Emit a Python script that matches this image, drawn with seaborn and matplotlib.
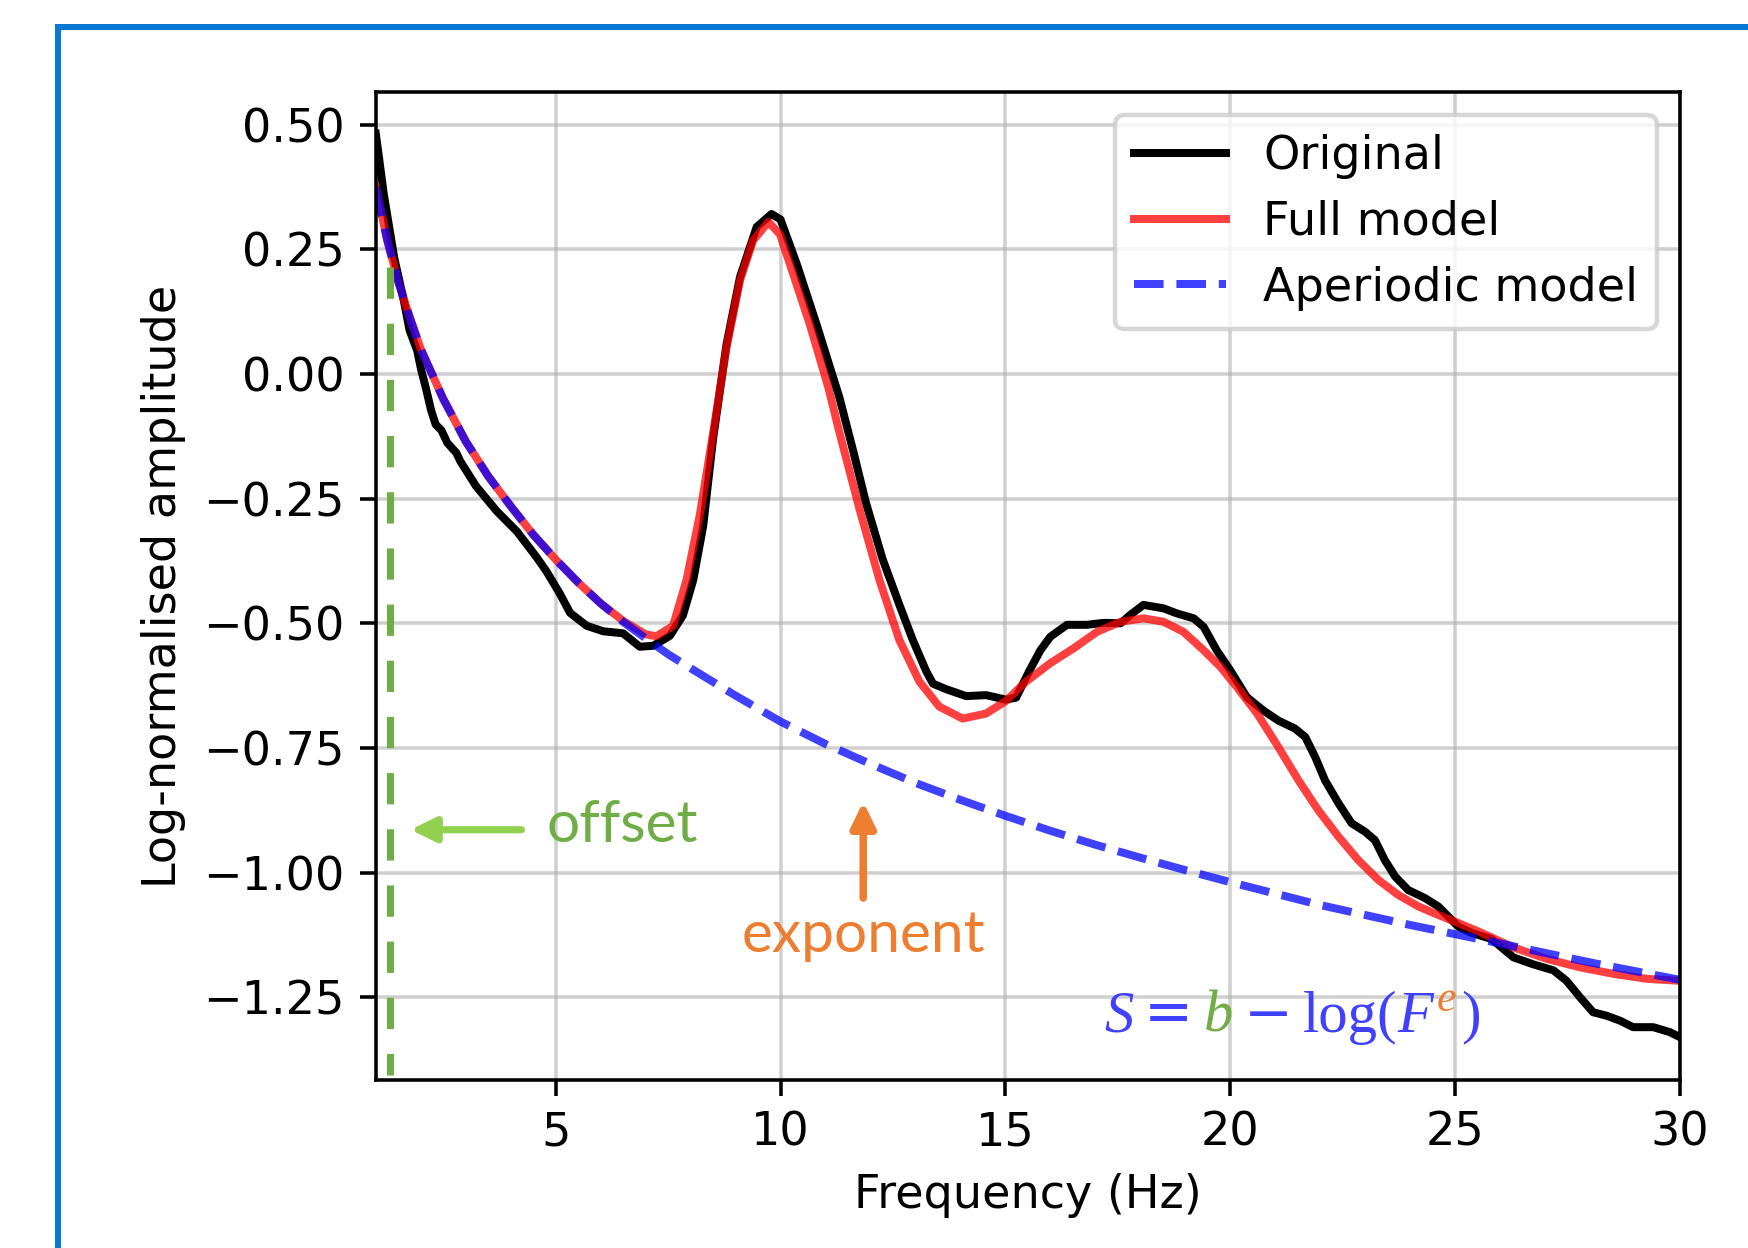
"""
Aperiodic fit illustration: original spectrum, full model and aperiodic model,
with offset / exponent annotations and the aperiodic formula.
"""

import matplotlib
matplotlib.use("Agg")
import matplotlib.pyplot as plt
import matplotlib.transforms as mtransforms
from matplotlib.patches import Rectangle
import seaborn as sns

# --- Data ---
freq_orig = [1.0, 1.18, 1.41, 1.63, 1.75, 1.92, 2.01, 2.11, 2.23, 2.33, 2.46, 2.59,
             2.79, 2.88, 3.23, 3.69, 4.14, 4.58, 4.79, 5.09, 5.32, 5.69, 6.06, 6.5,
             6.87, 7.17, 7.54, 7.83, 8.06, 8.28, 8.5, 8.8, 9.1, 9.47, 9.8, 10.0,
             10.36, 10.8, 11.31, 11.61, 11.9, 12.27, 12.64, 12.94, 13.24, 13.39,
             13.68, 14.13, 14.57, 15.01, 15.24, 15.53, 15.78, 16.0, 16.37, 16.81,
             17.19, 17.56, 17.78, 18.07, 18.52, 18.81, 19.19, 19.41, 19.7, 20.0,
             20.37, 20.74, 21.07, 21.44, 21.67, 21.89, 22.11, 22.41, 22.7, 23.0,
             23.22, 23.44, 23.67, 23.96, 24.33, 24.63, 24.85, 25.07, 25.37, 25.81,
             26.3, 26.74, 27.19, 27.48, 27.78, 28.07, 28.37, 28.67, 28.96, 29.41,
             29.78, 30.0]
amp_orig = [0.482, 0.359, 0.233, 0.144, 0.088, 0.047, 0.008, -0.027, -0.073, -0.101,
            -0.113, -0.138, -0.158, -0.175, -0.225, -0.275, -0.316, -0.368, -0.395,
            -0.44, -0.479, -0.505, -0.516, -0.52, -0.547, -0.545, -0.525, -0.484,
            -0.413, -0.305, -0.13, 0.06, 0.195, 0.295, 0.321, 0.31, 0.221, 0.10,
            -0.047, -0.152, -0.258, -0.371, -0.462, -0.533, -0.596, -0.621, -0.632,
            -0.646, -0.644, -0.653, -0.649, -0.596, -0.554, -0.527, -0.503, -0.503,
            -0.499, -0.5, -0.483, -0.463, -0.47, -0.48, -0.49, -0.507, -0.554,
            -0.594, -0.648, -0.675, -0.695, -0.711, -0.728, -0.768, -0.815, -0.861,
            -0.901, -0.918, -0.935, -0.975, -1.008, -1.035, -1.051, -1.068, -1.088,
            -1.108, -1.121, -1.133, -1.17, -1.184, -1.196, -1.217, -1.25, -1.28,
            -1.287, -1.297, -1.31, -1.31, -1.32, -1.33]

freq_full = [1.0, 1.25, 1.5, 1.75, 2.0, 2.5, 3.0, 3.5, 4.0, 4.5, 5.0, 5.5, 6.0, 6.5,
             7.0, 7.24, 7.61, 7.91, 8.21, 8.5, 8.8, 9.1, 9.39, 9.73, 9.99, 10.28,
             10.65, 11.06, 11.31, 11.76, 12.2, 12.64, 13.09, 13.53, 14.05, 14.57,
             15.01, 15.46, 16.0, 16.52, 17.04, 17.56, 18.07, 18.52, 18.96, 19.41,
             19.78, 20.15, 20.6, 21.07, 21.52, 21.96, 22.41, 22.85, 23.3, 23.74,
             24.19, 24.63, 25.07, 25.52, 26.3, 27.04, 27.78, 28.52, 29.26, 30.0]
amp_full = [0.375, 0.27, 0.185, 0.115, 0.05, -0.05, -0.135, -0.205, -0.265, -0.322,
            -0.372, -0.418, -0.46, -0.495, -0.522, -0.526, -0.505, -0.413, -0.28,
            -0.119, 0.054, 0.188, 0.268, 0.305, 0.28, 0.201, 0.10, -0.026, -0.117,
            -0.272, -0.413, -0.533, -0.617, -0.667, -0.691, -0.681, -0.656, -0.617,
            -0.58, -0.55, -0.517, -0.497, -0.49, -0.497, -0.517, -0.554, -0.587,
            -0.628, -0.681, -0.748, -0.815, -0.875, -0.928, -0.975, -1.015, -1.045,
            -1.068, -1.085, -1.101, -1.118, -1.15, -1.173, -1.19, -1.203, -1.213,
            -1.217]

freq_ap = [1.0, 1.25, 1.5, 1.75, 2.0, 2.5, 3.0, 3.5, 4.0, 4.5, 5.0, 5.5, 6.0, 6.5,
           7.0, 7.5, 8.0, 9.0, 10.0, 11.0, 12.0, 13.0, 14.0, 15.0, 16.0, 17.0, 18.0,
           19.0, 20.0, 22.0, 24.0, 26.0, 28.0, 30.0]
amp_ap = [0.375, 0.27, 0.185, 0.115, 0.05, -0.05, -0.135, -0.205, -0.265, -0.322,
          -0.372, -0.418, -0.46, -0.497, -0.53, -0.562, -0.59, -0.645, -0.697,
          -0.742, -0.782, -0.82, -0.854, -0.886, -0.916, -0.944, -0.97, -0.995,
          -1.019, -1.065, -1.105, -1.142, -1.18, -1.215]

x_ticks = [5, 10, 15, 20, 25, 30]
y_ticks = [0.5, 0.25, 0.0, -0.25, -0.5, -0.75, -1.0, -1.25]
labels = ["Original", "Full model", "Aperiodic model"]

# annotation colours (slide-style)
GREEN = "#70AD47"
LIGHT_GREEN = "#92D050"
ORANGE = "#ED7D31"
EQ_BLUE = "#4040FF"
FRAME_BLUE = "#0A78D2"

plt.rcParams["font.size"] = 10.4

# --- Figure ---
DPI = 320
fig = plt.figure(figsize=(1748 / DPI, 1248 / DPI), dpi=DPI)
ax = fig.add_axes([0.215, 0.135, 0.746, 0.791])

sns.lineplot(x=freq_orig, y=amp_orig, ax=ax, color="black", lw=1.8, label=labels[0])
sns.lineplot(x=freq_full, y=amp_full, ax=ax, color="red", lw=1.8, alpha=0.75,
             label=labels[1])
sns.lineplot(x=freq_ap, y=amp_ap, ax=ax, color="blue", lw=1.8, alpha=0.75,
             linestyle="--", label=labels[2])

ax.set_xlim(1, 30)
ax.set_ylim(-1.415, 0.565)
ax.set_xticks(x_ticks)
ax.set_yticks(y_ticks)
ax.grid(True, color="#b0b0b0", lw=0.8, alpha=0.6)
ax.set_axisbelow(True)
ax.set_xlabel("Frequency (Hz)")
ax.set_ylabel("Log-normalised amplitude")
ax.legend(loc="upper right", labelspacing=0.45)

# offset marker: dashed green line + arrow + label
ax.plot([1.32, 1.32], [0.214, -1.405], color=GREEN, lw=1.6, dashes=(4.4, 3.5))
ax.annotate("", xy=(1.77, -0.914), xytext=(4.24, -0.914),
            arrowprops=dict(arrowstyle="-|>,head_length=0.45,head_width=0.22",
                            color=LIGHT_GREEN, lw=1.6, shrinkA=0, shrinkB=0))
ax.text(4.79, -0.939, "offset", color=GREEN, fontsize=13.2, family="Lato",
        ha="left", va="baseline")

# exponent marker
ax.annotate("", xy=(11.84, -0.858), xytext=(11.84, -1.051),
            arrowprops=dict(arrowstyle="-|>,head_length=0.45,head_width=0.22",
                            color=ORANGE, lw=1.7, shrinkA=0, shrinkB=0))
ax.text(11.84, -1.159, "exponent", color=ORANGE, fontsize=13.2, family="Lato",
        ha="center", va="baseline")

# formula S = b - log(F^e), pieced together so each symbol gets its own colour
EQ_SIZE = 13.2
SERIF = "Liberation Serif"
eq_pieces = [  # text, font, style, colour, gap before (em), superscript
    ("S", SERIF, "italic", EQ_BLUE, 0.0, False),
    ("=", "DejaVu Serif", "normal", EQ_BLUE, 0.18, False),
    ("b", SERIF, "italic", GREEN, 0.18, False),
    ("\u2212", "DejaVu Serif", "normal", EQ_BLUE, 0.17, False),
    ("log(", SERIF, "normal", EQ_BLUE, 0.17, False),
    ("F", SERIF, "italic", EQ_BLUE, 0.0, False),
    ("e", SERIF, "italic", ORANGE, 0.07, True),
    (")", SERIF, "normal", EQ_BLUE, 0.08, False),
]
fig.canvas.draw()
renderer = fig.canvas.get_renderer()
px, py = ax.transData.transform((17.2, -1.319))
em = EQ_SIZE * DPI / 72
for text, font, style, color, gap, sup in eq_pieces:
    px += gap * em
    t = ax.text(px, py + (0.36 * em if sup else 0), text,
                transform=mtransforms.IdentityTransform(),
                fontsize=EQ_SIZE * (0.75 if sup else 1), family=font,
                style=style, color=color, ha="left", va="baseline")
    px += t.get_window_extent(renderer).width

# blue slide frame running off the right and bottom edges
fig.add_artist(Rectangle((0.0334, -0.05), 1.0, 0.9784 + 0.05,
                         transform=fig.transFigure, fill=False,
                         edgecolor=FRAME_BLUE, lw=1.35))

fig.savefig("out.png", dpi=DPI)
plt.close(fig)
